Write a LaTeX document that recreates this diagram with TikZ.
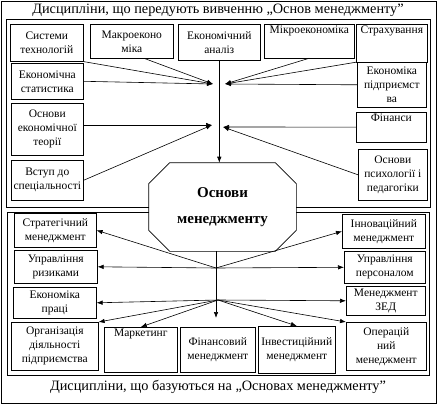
\documentclass[tikz,border=0pt]{standalone}
\usepackage{fontspec}
\setmainfont{Liberation Serif}
\usetikzlibrary{arrows.meta}

\begin{document}
\begin{tikzpicture}[
  x=1pt, y=-1pt,
  >={Latex[length=6pt,width=4.5pt]},
  line width=0.6pt,
  font=\fontsize{11.5}{14}\selectfont,
  box/.style={draw, align=center, inner sep=1.5pt, anchor=north west},
  wh/.style 2 args={minimum width=#1pt, minimum height=#2pt},
  flow/.style={->, line width=0.6pt},
  title/.style={font=\fontsize{14.3}{18}\selectfont}
]
\useasboundingbox (0,0) rectangle (437,404);

% frames (broken where the core shape sits)
\draw (1,1) rectangle (436,403);
\draw (149,207) -| (6,19) -| (430,207) -- (296,207);
\draw (149,212) -| (7,375) -| (429,212) -- (296,212);
\node[title] (toptitle) at (218,10) {Дисципліни, що передують вивченню „Основ менеджменту”};
\node[title] (bottitle) at (218,387) {Дисципліни, що базуються на „Основах менеджменту”};

% disciplines before
\node[box, wh={73}{37}] (systech) at (10,24) {Системи\\технологій};
\node[box, wh={83}{34}] (macro) at (90,24) {Макроеконо\\міка};
\node[box, wh={82}{36}] (econan) at (178,24) {Економічний\\аналіз};
\node[box, wh={90}{0}, text depth=23pt] (micro) at (264,24) {Мікроекономіка};
\node[box, wh={71}{0}, text depth=27pt] (insur) at (356,24) {Страхування};
\node[box, wh={72}{36}] (estat) at (11,63) {Економічна\\статистика};
\node[box, wh={72}{52}] (etheory) at (11,103) {Основи\\економічної\\теорії};
\node[box, wh={72}{40}] (intro) at (11,160) {Вступ до\\спеціальності};
\node[box, wh={69}{45}] (entpr) at (357,62) {Економіка\\підприємст\\ва};
\node[box, wh={70}{0}, text depth=19pt] (fin) at (356,112) {Фінанси};
\node[box, wh={69}{51}] (psych) at (358,149) {Основи\\психології і\\педагогіки};

% core
\node[minimum width=147pt, minimum height=88pt, align=center,
  font=\bfseries\fontsize{15}{26}\selectfont] (core) at (222.5,207) {Основи\\менеджменту};
\draw ([xshift=21pt]core.north west) -- ([xshift=-21pt]core.north east)
  -- ([yshift=-21pt]core.north east) -- ([yshift=21pt]core.south east)
  -- ([xshift=-21pt]core.south east) -- ([xshift=21pt]core.south west)
  -- ([yshift=21pt]core.south west) -- ([yshift=-21pt]core.north west) -- cycle;

% disciplines after
\node[box, wh={82}{34}] (strat) at (14,213) {Стратегічний\\менеджмент};
\node[box, wh={83}{33}] (risk) at (14,250) {Управління\\ризиками};
\node[box, wh={83}{31}] (labour) at (13,287) {Економіка\\праці};
\node[box, wh={87}{48}] (org) at (11,322) {Організація\\діяльності\\підприємства};
\node[box, wh={73}{0}, text depth=34pt] (market) at (104,327) {Маркетинг};
\node[box, wh={75}{45}] (finman) at (180,327) {Фінансовий\\менеджмент};
\node[box, wh={77}{47}] (invest) at (258,326) {Інвестиційний\\менеджмент};
\node[box, wh={80}{48}] (oper) at (346,322) {Операцій\\ний\\менеджмент};
\node[box, wh={83}{34}] (innov) at (342,214) {Інноваційний\\менеджмент};
\node[box, wh={81}{32}] (staff) at (344,251) {Управління\\персоналом};
\node[box, wh={79}{29}] (zed) at (346,286) {Менеджмент\\ЗЕД};

\coordinate (jtl) at (213,84);
\coordinate (jtr) at (225,84);
\coordinate (jml) at (212,125);
\coordinate (jmr) at (223,127);
\coordinate (jbu) at (216,268);
\coordinate (jbd) at (218,300);

\draw[flow] (systech.south east) -- (jtl);
\draw[flow] ([xshift=13pt]macro.south) -- (jtl);
\draw[flow] (estat.east) -- (jtl);
\draw[flow] (micro.south) -- (jtr);
\draw[flow] (insur.south west) -- (jtr);
\draw[flow] (entpr.west) -- (jtr);
\draw[flow] (etheory.east |- jml) -- (jml);
\draw[flow] (intro.east) -- (jml);
\draw[flow] (fin.west) -- (jmr);
\draw[flow] (psych.west) -- (jmr);
\draw[flow] (econan.south) -- (econan.south |- core.north);

\draw[flow, shorten >=9pt] (core.south -| jbu) -- (finman.north -| jbu);
\draw[flow] (jbu) -- (strat.east);
\draw[flow] (jbu) -- (innov.west);
\draw[flow] (jbu) -- (risk.east);
\draw[flow] (jbu) -- (staff.west);
\draw[flow] (jbd) -- (labour.east);
\draw[flow] (jbd) -- (zed.west);
\draw[flow] (jbd) -- (org.north east);
\draw[flow] (jbd) -- (market.north);
\draw[flow] (jbd) -- (invest.north);
\draw[flow] (jbd) -- (oper.north west);
\end{tikzpicture}
\end{document}
